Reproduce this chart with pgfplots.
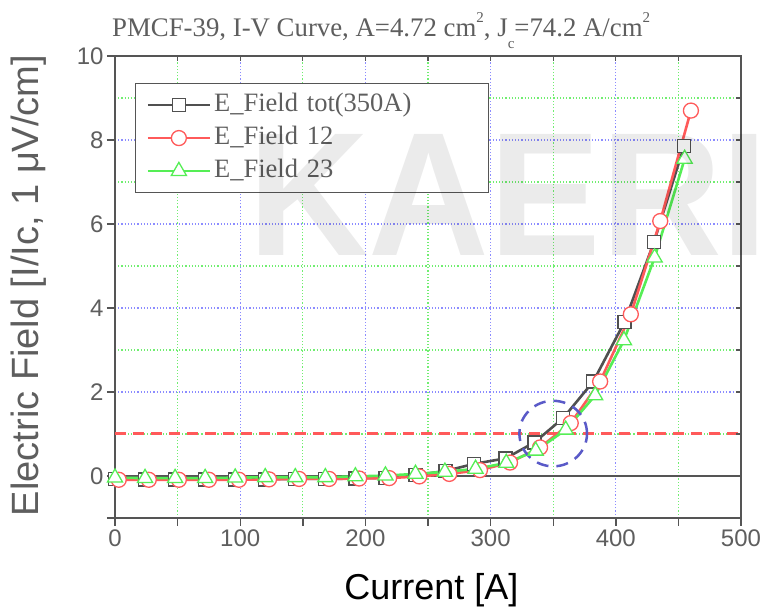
\documentclass[border=0pt]{standalone}
\usepackage{fontspec}
\usepackage{graphicx}
\usepackage{pgfplots}
\usepackage{pgfplotstable}
\pgfplotsset{compat=1.18}
\setmainfont{Liberation Serif}
\newfontfamily\lsans{Liberation Sans}

\definecolor{axisgray}{HTML}{555555}
\definecolor{labelgray}{HTML}{5E5E5E}
\definecolor{serblack}{HTML}{505050}
\definecolor{serred}{HTML}{FF5A5A}
\definecolor{sergreen}{HTML}{55EE55}
\definecolor{gridblue}{HTML}{8C8CFF}
\definecolor{gridgreen}{HTML}{70EE70}
\definecolor{ellblue}{HTML}{5A5AC8}

% E-field per voltage tap, in units of the 1 uV/cm criterion
\pgfplotstableread{
I      E
0      -0.07
24     -0.08
48     -0.08
72     -0.08
96     -0.08
120    -0.08
144    -0.07
168    -0.07
192    -0.06
216    -0.04
240     0.02
264     0.12
287     0.29
312     0.42
335     0.80
358     1.38
382     2.25
407     3.67
430.5   5.57
454.5   7.85
}\tot
\pgfplotstableread{
I      E
3      -0.09
27     -0.09
51     -0.09
75     -0.09
99     -0.09
123    -0.08
147    -0.07
171    -0.07
195    -0.06
219    -0.05
243    -0.01
267     0.05
291.5   0.14
315.5   0.32
339.5   0.68
364     1.26
387.5   2.25
412     3.85
435.5   6.07
460     8.70
}\twelve
\pgfplotstableread{
I      E
0      -0.04
24     -0.05
48     -0.05
72     -0.05
96     -0.04
120    -0.03
144    -0.03
168    -0.03
192    -0.01
216     0.01
240     0.05
263.5   0.10
288     0.17
312.5   0.31
336     0.60
360     1.10
383.5   1.92
406.5   3.23
431     5.20
455     7.55
}\twothree

\begin{document}
\begin{tikzpicture}
\useasboundingbox (-115pt,-92pt) rectangle (653pt,518pt);
\fill[white] (-115pt,-92pt) rectangle (653pt,518pt);

\begin{axis}[
  at={(0pt,0pt)}, anchor=south west,
  scale only axis, width=626pt, height=462pt,
  xmin=0, xmax=500, ymin=-1, ymax=10,
  xtick={0,100,...,500}, minor xtick={50,150,...,450},
  ytick={-1,0,2,4,6,8,10}, yticklabels={,0,2,4,6,8,10},
  minor ytick={1,3,5,7,9},
  grid=both,
  major grid style={draw=gridblue, line width=1.2pt, dash pattern=on 1.2pt off 2pt},
  minor grid style={draw=gridgreen, line width=1.2pt, dash pattern=on 1.2pt off 2pt},
  axis line style={draw=axisgray, line width=1.6pt},
  tick style={draw=axisgray, line width=1.4pt},
  major tick length=8pt, minor tick length=8pt,
  minor y tick style={draw=none},
  tick align=outside, xtick pos=left, ytick pos=left,
  /pgf/number format/assume math mode=true,
  ticklabel style={font=\lsans\fontsize{24}{24}\selectfont, text=labelgray},
  xlabel={Current [A]},
  ylabel={Electric Field [I/Ic, 1 μV/cm]},
  every axis x label/.style={at={(rel axis cs:0.5,0)}, anchor=base, yshift=-81pt, xshift=3.5pt,
    font=\lsans\fontsize{36}{36}\selectfont, text=black},
  every axis y label/.style={at={(rel axis cs:0,0.5)}, rotate=90, anchor=base, yshift=76pt, xshift=1.5pt,
    font=\lsans\fontsize{38}{38}\selectfont, text=labelgray},
  legend cell align=left,
  legend image code/.code={\draw[mark repeat=2, mark phase=2] plot coordinates {(0pt,0pt) (31pt,0pt) (62pt,0pt)};},
  legend style={at={(0.0319,0.9416)}, anchor=north west,
    draw=axisgray, line width=1.2pt, fill=white,
    inner xsep=11pt, inner ysep=8pt, row sep=6pt,
    font=\fontsize{26.5}{28}\selectfont, text=labelgray,
    nodes={inner xsep=3pt, inner ysep=0pt, text height=20pt, text depth=7pt, text width=260pt, align=left}},
]
\addplot[draw=axisgray, line width=1.6pt, forget plot] coordinates {(0,0) (500,0)};
\addplot[draw=serred, line width=3pt, dash pattern=on 11pt off 7pt, forget plot] coordinates {(0,1) (500,1)};

\addplot[serblack, line width=2.6pt, mark=square*,
  mark options={solid, draw=serblack, fill=white, line width=1.3pt}, mark size=6.5pt]
  table[x=I, y=E] {\tot};
\addlegendentry{E\_Field tot(350A)}
\addplot[serred, line width=2.6pt, mark=*,
  mark options={solid, draw=serred, fill=white, line width=1.3pt}, mark size=7.5pt]
  table[x=I, y=E] {\twelve};
\addlegendentry{E\_Field 12}
\addplot[sergreen, line width=2.6pt, mark=triangle*,
  mark options={solid, draw=sergreen, fill=white, line width=1.3pt}, mark size=8.7pt]
  table[x=I, y=E] {\twothree};
\addlegendentry{E\_Field 23}

\draw[ellblue, line width=2.5pt, dash pattern=on 12pt off 8pt]
  (axis cs:350,1.01) ellipse [x radius=27, y radius=0.78];
\end{axis}

% inward ticks along the top and right edges
\begin{axis}[
  at={(0pt,0pt)}, anchor=south west,
  scale only axis, width=626pt, height=462pt,
  xmin=0, xmax=500, ymin=-1, ymax=10,
  axis x line*=top, axis y line*=right,
  axis line style={draw=none},
  xtick={0,50,...,500}, ytick={-1,0,...,10},
  xticklabels={}, yticklabels={},
  tick align=inside, major tick length=5pt,
  tick style={draw=axisgray, line width=1.2pt},
]
\end{axis}

\node[anchor=base west, inner sep=0pt, text=labelgray,
  font=\fontsize{26.8}{28}\selectfont] at (-3pt,481pt)
  {PMCF-39, I-V Curve, A=4.72 cm\raisebox{0.55em}{\fontsize{15}{15}\selectfont 2}, J\raisebox{-0.42em}{\fontsize{15}{15}\selectfont c}=74.2 A/cm\raisebox{0.55em}{\fontsize{15}{15}\selectfont 2}};

\node[anchor=base west, inner sep=0pt, text=black, text opacity=0.08,
  font=\lsans\bfseries\fontsize{176}{176}\selectfont] at (133pt,262pt)
  {\scalebox{0.95}[1]{KAERI}};
\end{tikzpicture}
\end{document}
